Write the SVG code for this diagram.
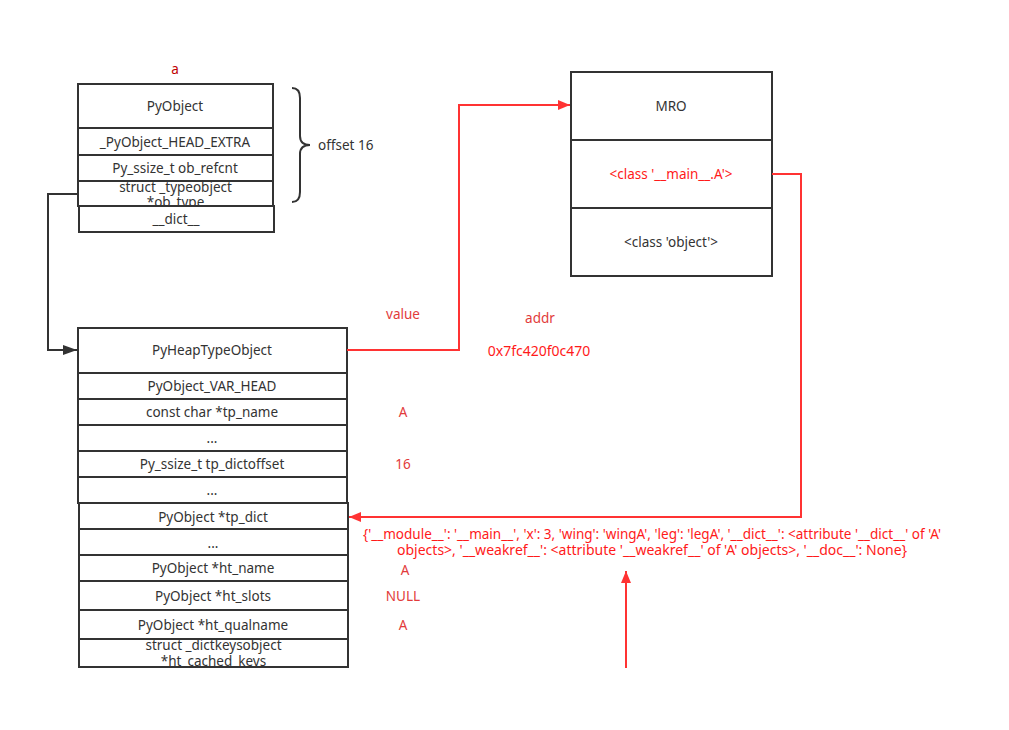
<svg xmlns="http://www.w3.org/2000/svg" width="1009" height="730" viewBox="0 0 1009 730">
<defs>
<style>
.box{fill:#fff;stroke:#333;stroke-width:2}
.t{font-family:"Noto Sans","Open Sans",sans-serif;font-size:13.5px;fill:#333;text-anchor:middle;dominant-baseline:central}
.r{fill:#e23b3b}
.rr{fill:#ff1a1a}
.cr{fill:none;stroke:#ff3333;stroke-width:2}
.ck{fill:none;stroke:#333;stroke-width:2}
</style>
<marker id="ar" viewBox="0 0 12 10" refX="12" refY="5" markerWidth="12" markerHeight="10" markerUnits="userSpaceOnUse" orient="auto"><path d="M0,0 L12,5 L0,10 z" fill="#ff3333"/></marker>
<marker id="ak" viewBox="0 0 14 10" refX="14" refY="5" markerWidth="14" markerHeight="10" markerUnits="userSpaceOnUse" orient="auto"><path d="M0,0 L14,5 L0,10 z" fill="#333"/></marker>
</defs>
<rect width="1009" height="730" fill="#fff"/>

<g id="pyobject">
<text class="t" x="175" y="69" style="fill:#c00000">a</text>
<rect class="box" x="78" y="84" width="195" height="44"/>
<text class="t" x="175" y="106">PyObject</text>
<rect class="box" x="78" y="128" width="195" height="27"/>
<text class="t" x="175" y="142">_PyObject_HEAD_EXTRA</text>
<rect class="box" x="78" y="155" width="195" height="26"/>
<text class="t" x="175" y="168">Py_ssize_t ob_refcnt</text>
<rect class="box" x="78" y="181" width="195" height="25"/>
<svg x="78" y="181" width="195" height="25" overflow="hidden">
<text class="t" x="97.5" y="6">struct _typeobject</text>
<text class="t" x="97.5" y="21">*ob_type</text>
</svg>
<rect class="box" x="79" y="206" width="195" height="26"/>
<text class="t" x="176" y="219">__dict__</text>
<path d="M292,88 Q300,88 300,98 L300,136 Q300,145 310,145 Q300,145 300,154 L300,192 Q300,202 292,202" fill="none" stroke="#333" stroke-width="2"/>
<text class="t" x="318" y="145" style="text-anchor:start">offset 16</text>
</g>

<g id="mro">
<rect class="box" x="571" y="72" width="201" height="68"/>
<text class="t" x="671" y="106">MRO</text>
<rect class="box" x="571" y="140" width="201" height="68"/>
<text class="t rr" x="671" y="174">&lt;class '__main__.A'&gt;</text>
<rect class="box" x="571" y="208" width="201" height="68"/>
<text class="t" x="671" y="242">&lt;class 'object'&gt;</text>
</g>

<g id="heaptype">
<rect class="box" x="78" y="328" width="269" height="45"/>
<text class="t" x="212" y="350">PyHeapTypeObject</text>
<rect class="box" x="78" y="373" width="269" height="26"/>
<text class="t" x="212" y="386">PyObject_VAR_HEAD</text>
<rect class="box" x="78" y="399" width="269" height="26"/>
<text class="t" x="212" y="412">const char *tp_name</text>
<rect class="box" x="78" y="425" width="269" height="26"/>
<text class="t" x="212" y="438">...</text>
<rect class="box" x="78" y="451" width="269" height="26"/>
<text class="t" x="212" y="464">Py_ssize_t tp_dictoffset</text>
<rect class="box" x="78" y="477" width="269" height="26"/>
<text class="t" x="212" y="490">...</text>
</g>

<g id="heaptype2">
<rect class="box" x="79" y="503" width="269" height="26"/>
<text class="t" x="213" y="517">PyObject *tp_dict</text>
<rect class="box" x="79" y="529" width="269" height="26"/>
<text class="t" x="213" y="543">...</text>
<rect class="box" x="79" y="555" width="269" height="26"/>
<text class="t" x="213" y="568">PyObject *ht_name</text>
<rect class="box" x="79" y="581" width="269" height="29"/>
<text class="t" x="213" y="596">PyObject *ht_slots</text>
<rect class="box" x="79" y="610" width="269" height="29"/>
<text class="t" x="213" y="625">PyObject *ht_qualname</text>
<rect class="box" x="79" y="639" width="269" height="28"/>
<svg x="79" y="639" width="269" height="28" overflow="hidden">
<text class="t" x="134.5" y="6">struct _dictkeysobject</text>
<text class="t" x="134.5" y="22">*ht_cached_keys</text>
</svg>
</g>

<g id="labels">
<text class="t r" x="403" y="314">value</text>
<text class="t r" x="540" y="318">addr</text>
<text class="t rr" x="539" y="350" style="font-size:14px">0x7fc420f0c470</text>
<text class="t r" x="403" y="412">A</text>
<text class="t r" x="403" y="464">16</text>
<text class="t rr" x="652" y="534" textLength="578" lengthAdjust="spacingAndGlyphs">{'__module__': '__main__', 'x': 3, 'wing': 'wingA', 'leg': 'legA', '__dict__': &lt;attribute '__dict__' of 'A'</text>
<text class="t rr" x="652" y="550" textLength="510" lengthAdjust="spacingAndGlyphs">objects&gt;, '__weakref__': &lt;attribute '__weakref__' of 'A' objects&gt;, '__doc__': None}</text>
<text class="t r" x="405" y="570">A</text>
<text class="t r" x="403" y="596">NULL</text>
<text class="t r" x="403" y="625">A</text>
</g>

<g id="connectors">
<path class="ck" d="M78,194 L48,194 L48,350 L77,350" marker-end="url(#ak)"/>
<path class="cr" d="M347,350 L459,350 L459,105 L570,105" marker-end="url(#ar)"/>
<path class="cr" d="M772,174 L801,174 L801,517 L349,517" marker-end="url(#ar)"/>
<path class="cr" d="M626,668 L626,571" marker-end="url(#ar)"/>
</g>
</svg>
